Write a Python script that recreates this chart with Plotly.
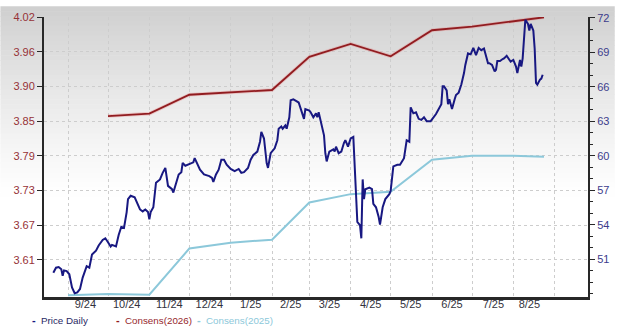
import plotly.graph_objects as go

# ---------------- data ----------------
price_dates = [
    "2024-08-21", "2024-08-23", "2024-08-25", "2024-08-27", "2024-08-28", "2024-08-29", "2024-08-31",
    "2024-09-02", "2024-09-04", "2024-09-06", "2024-09-08", "2024-09-10", "2024-09-12", "2024-09-15",
    "2024-09-17", "2024-09-19", "2024-09-22", "2024-09-24", "2024-09-27", "2024-09-29",
    "2024-10-01", "2024-10-03", "2024-10-04", "2024-10-07", "2024-10-09", "2024-10-11", "2024-10-13",
    "2024-10-15", "2024-10-16", "2024-10-18", "2024-10-21", "2024-10-23", "2024-10-25", "2024-10-27",
    "2024-10-29", "2024-10-31",
    "2024-11-01", "2024-11-02", "2024-11-04", "2024-11-06", "2024-11-09", "2024-11-11", "2024-11-13",
    "2024-11-15", "2024-11-18", "2024-11-19", "2024-11-21", "2024-11-23", "2024-11-25", "2024-11-26",
    "2024-11-28",
    "2024-12-01", "2024-12-04", "2024-12-05", "2024-12-06", "2024-12-09", "2024-12-12", "2024-12-16",
    "2024-12-18", "2024-12-19", "2024-12-21", "2024-12-23", "2024-12-25", "2024-12-27", "2024-12-29",
    "2025-01-01", "2025-01-04", "2025-01-07", "2025-01-09", "2025-01-11", "2025-01-14", "2025-01-16",
    "2025-01-18", "2025-01-21", "2025-01-23", "2025-01-24", "2025-01-26", "2025-01-28", "2025-01-29",
    "2025-01-31",
    "2025-02-03", "2025-02-05", "2025-02-06", "2025-02-08", "2025-02-09", "2025-02-11", "2025-02-12",
    "2025-02-14", "2025-02-15", "2025-02-17", "2025-02-19", "2025-02-21", "2025-02-23", "2025-02-25",
    "2025-02-26",
    "2025-03-01", "2025-03-02", "2025-03-04", "2025-03-06", "2025-03-07", "2025-03-08", "2025-03-10",
    "2025-03-12", "2025-03-13", "2025-03-14", "2025-03-16", "2025-03-19", "2025-03-20", "2025-03-21",
    "2025-03-23", "2025-03-25", "2025-03-27", "2025-03-28", "2025-03-30",
    "2025-04-01", "2025-04-03", "2025-04-04", "2025-04-06", "2025-04-07", "2025-04-08", "2025-04-09",
    "2025-04-10", "2025-04-11", "2025-04-12", "2025-04-15", "2025-04-17", "2025-04-18", "2025-04-20",
    "2025-04-22", "2025-04-23", "2025-04-25", "2025-04-27", "2025-04-30",
    "2025-05-01", "2025-05-03", "2025-05-06", "2025-05-08", "2025-05-11", "2025-05-13", "2025-05-15",
    "2025-05-16", "2025-05-18", "2025-05-20", "2025-05-22", "2025-05-24", "2025-05-26", "2025-05-28",
    "2025-05-31",
    "2025-06-04", "2025-06-08", "2025-06-09", "2025-06-10", "2025-06-12", "2025-06-13", "2025-06-14",
    "2025-06-16", "2025-06-18", "2025-06-19", "2025-06-21", "2025-06-23", "2025-06-25", "2025-06-26",
    "2025-06-28", "2025-06-30",
    "2025-07-02", "2025-07-04", "2025-07-06", "2025-07-08", "2025-07-10", "2025-07-11", "2025-07-13",
    "2025-07-14", "2025-07-16", "2025-07-18", "2025-07-19", "2025-07-20", "2025-07-22", "2025-07-24",
    "2025-07-25", "2025-07-27", "2025-07-29", "2025-07-30",
    "2025-08-01", "2025-08-03", "2025-08-04", "2025-08-06", "2025-08-07", "2025-08-08", "2025-08-10",
    "2025-08-12", "2025-08-13", "2025-08-14", "2025-08-16", "2025-08-17", "2025-08-18", "2025-08-19",
    "2025-08-21", "2025-08-22", "2025-08-23",
]
price_values = [
    49.83, 50.26, 50.32, 50.12, 49.55, 50.03, 49.97,
    49.69, 48.55, 48.04, 48.12, 48.41, 49.40, 50.40,
    50.26, 51.40, 51.74, 52.19, 52.68, 52.82,
    52.48, 52.11, 52.25, 52.11, 53.11, 53.82, 53.73,
    55.10, 56.23, 56.52, 56.38, 55.81, 55.33, 55.16,
    55.33, 55.10,
    54.47, 55.10, 55.52, 57.66, 57.94, 58.51, 58.94,
    57.38, 57.09, 56.80, 57.51, 58.37, 58.57, 59.37,
    59.13,
    59.31, 59.43, 59.79, 59.51, 58.79, 58.37, 58.23,
    58.08, 57.72, 58.37, 58.79, 59.65, 59.65, 59.22,
    58.85, 58.66, 58.85, 58.51, 58.57, 58.94, 59.65,
    60.07, 60.36, 61.22, 62.07, 61.50, 59.37, 58.94,
    60.22,
    60.65, 61.35, 62.35, 62.55, 62.35, 62.63, 62.35,
    63.35, 64.83, 64.91, 64.77, 64.63, 63.92, 63.21,
    64.06,
    63.92, 63.78, 63.35, 63.69, 63.35, 63.78, 62.78,
    61.78, 60.22, 59.51, 60.36, 60.56, 60.36, 60.79,
    60.22, 60.36, 61.13, 61.35, 60.79,
    61.50, 61.64, 59.08, 54.24, 54.10, 53.96, 52.82,
    57.94, 56.23, 57.09, 57.23, 57.09, 55.81, 55.52,
    54.67, 54.01, 55.52, 56.23, 56.66,
    56.95, 59.08, 59.22, 59.22, 59.79, 61.35, 61.22,
    64.21, 63.69, 63.78, 63.21, 63.12, 63.35, 63.01,
    63.01,
    63.63, 64.49, 66.05, 66.05, 65.68, 64.49, 64.91,
    64.06, 64.91, 65.28, 65.49, 66.19, 67.19, 67.90,
    68.90, 68.82,
    69.38, 68.76, 69.38, 69.18, 69.33, 68.90, 68.05,
    68.05, 67.90, 67.33, 67.48, 68.24, 68.24, 68.41,
    68.47, 68.70, 68.33, 68.18,
    68.33, 67.76, 67.19, 68.33, 67.76, 68.47, 71.83,
    71.46, 70.89, 71.46, 70.89, 69.33, 66.34, 66.19,
    66.62, 66.71, 67.05,
]

cons26_dates = ["2024-10-01", "2024-11-01", "2024-12-01", "2025-01-01", "2025-02-01", "2025-03-01",
                "2025-04-01", "2025-05-01", "2025-06-01", "2025-07-01", "2025-08-01", "2025-08-24"]
cons26_values = [3.853, 3.857, 3.889, 3.893, 3.897, 3.953, 3.975, 3.954, 3.998, 4.004, 4.013, 4.020]

cons25_dates = ["2024-09-01", "2024-10-01", "2024-11-01", "2024-12-01", "2025-01-01", "2025-02-01",
                "2025-03-01", "2025-04-01", "2025-05-01", "2025-06-01", "2025-07-01", "2025-08-01",
                "2025-08-24"]
cons25_values = [3.550, 3.552, 3.551, 3.629, 3.639, 3.644, 3.707, 3.721, 3.725, 3.779, 3.786, 3.786, 3.784]

x_tick_dates = ["2024-09-14", "2024-10-15", "2024-11-16", "2024-12-16", "2025-01-16", "2025-02-15",
                "2025-03-16", "2025-04-16", "2025-05-16", "2025-06-16", "2025-07-17", "2025-08-13"]
x_tick_labels = ["9/24", "10/24", "11/24", "12/24", "1/25", "2/25", "3/25", "4/25", "5/25", "6/25",
                 "7/25", "8/25"]

left_tick_labels = ["4.02", "3.96", "3.90", "3.85", "3.79", "3.73", "3.67", "3.61"]
left_top, left_bottom_label = 4.02, 3.61
right_tick_values = [51, 54, 57, 60, 63, 66, 69, 72]

# ---------------- styling ----------------
W, H = 620, 328
ML, MR, MT, MB = 44, 27, 11, 31
PW, PH = W - ML - MR, H - MT - MB

C_PRICE = "rgb(24,24,130)"
C_26 = "rgb(145,28,32)"
C_25 = "rgb(140,200,218)"
FONT = "Liberation Sans"

step = (left_top - left_bottom_label) / (len(left_tick_labels) - 1)
left_tick_vals = [left_top - i * step for i in range(len(left_tick_labels))]
px_per_left = step / 35.4
left_range = [left_bottom_label - 38 * px_per_left, left_top + 0.0004]
rstep_px = 35.15
r_per_px = 3 / rstep_px
right_range = [51 - 38.5 * r_per_px, 72 + 0.8 * r_per_px]

fig = go.Figure()

fig.add_trace(go.Scatter(x=cons25_dates, y=cons25_values, mode="lines", name="Consens(2025)",
                         line=dict(color=C_25, width=2), yaxis="y"))
fig.add_trace(go.Scatter(x=cons26_dates, y=cons26_values, mode="lines", showlegend=False,
                         line=dict(color="rgba(230,130,130,0.35)", width=3.6), yaxis="y",
                         hoverinfo="skip"))
fig.add_trace(go.Scatter(x=cons26_dates, y=cons26_values, mode="lines", name="Consens(2026)",
                         line=dict(color=C_26, width=1.8), yaxis="y"))
fig.add_trace(go.Scatter(x=price_dates, y=price_values, mode="lines", name="Price Daily",
                         line=dict(color=C_PRICE, width=2), yaxis="y2"))

# background gradient (grey at top fading to white)
shapes = []
N = 40
top_px, fade_px = 0.0, 200.0
for i in range(N):
    p0 = top_px + i * fade_px / N
    p1 = p0 + fade_px / N + 0.6
    t = (p0 + fade_px / N / 2) / fade_px
    c = int(round(255 - 48 * (1 - t) ** 1.25))
    shapes.append(dict(type="rect", xref="paper", yref="paper",
                       x0=-ML / PW, x1=1 + MR / PW,
                       y0=(PH + MT - p1) / PH, y1=(PH + MT - p0) / PH,
                       fillcolor=f"rgb({c},{c},{c})", line=dict(width=0), layer="below"))

annotations = []
legend_items = [("Price Daily", "rgb(40,40,100)", C_PRICE, 30),
                ("Consens(2026)", "rgb(150,40,45)", C_26, 115),
                ("Consens(2025)", C_25, C_25, 196)]
for text, tcol, dcol, xpx in legend_items:
    annotations.append(dict(x=(xpx - ML) / PW, y=(PH + MT - 321) / PH, xref="paper", yref="paper",
                            xanchor="left", yanchor="middle", showarrow=False,
                            text="<b>-</b>", font=dict(family=FONT, size=11, color=dcol)))
    annotations.append(dict(x=(xpx + 9 - ML) / PW, y=(PH + MT - 321) / PH, xref="paper", yref="paper",
                            xanchor="left", yanchor="middle", showarrow=False,
                            text=text, font=dict(family=FONT, size=9.8, color=tcol)))

fig.update_layout(
    width=W, height=H,
    margin=dict(l=ML, r=MR, t=MT, b=MB, pad=0),
    paper_bgcolor="white", plot_bgcolor="rgba(0,0,0,0)",
    showlegend=False,
    shapes=shapes, annotations=annotations,
    xaxis=dict(type="date", range=["2024-08-14", "2025-09-26"],
               tickmode="array", tickvals=x_tick_dates, ticktext=x_tick_labels,
               ticks="", showgrid=False, zeroline=False, ticklabelstandoff=-5,
               showline=True, linecolor="rgb(40,40,40)", linewidth=3,
               tickfont=dict(family=FONT, size=11, color="rgb(50,50,60)"),
               minor=dict(tickmode="linear", tick0="2024-09-01", dtick="M1", showgrid=True,
                          gridcolor="rgb(205,205,205)", griddash="dot", gridwidth=1, ticks="")),
    yaxis=dict(range=left_range, tickmode="array", tickvals=left_tick_vals, ticktext=left_tick_labels,
               ticks="outside", ticklen=5, tickcolor="rgb(40,40,40)", tickwidth=1,
               showgrid=True, gridcolor="rgb(205,205,205)", griddash="dot", gridwidth=1,
               zeroline=False, showline=True, linecolor="rgb(40,40,40)", linewidth=2,
               tickfont=dict(family=FONT, size=11, color="rgb(150,50,55)")),
    yaxis2=dict(range=right_range, overlaying="y", side="right", tickmode="array",
                tickvals=right_tick_values, ticks="outside", ticklen=5, tickcolor="rgb(40,40,40)",
                showgrid=False, zeroline=False, showline=True, linecolor="rgb(40,40,40)", linewidth=2,
                tickfont=dict(family=FONT, size=11, color="rgb(60,60,140)"),
                minor=dict(tickmode="linear", tick0=48, dtick=1, ticks="outside", ticklen=3,
                           tickcolor="rgb(40,40,40)", showgrid=False)),
)

fig.write_html("out.html")
